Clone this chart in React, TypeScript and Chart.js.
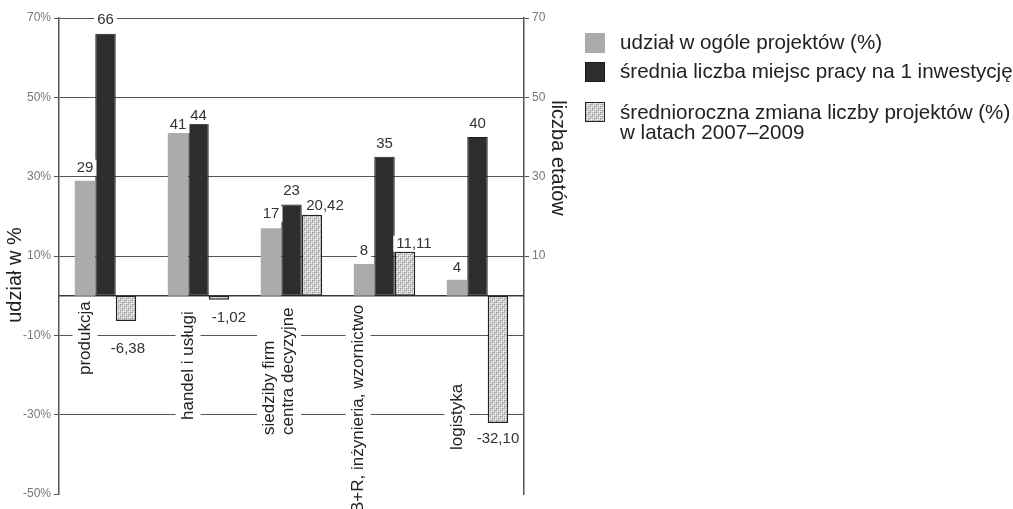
import React, { useEffect, useRef } from 'react';
import { Chart, registerables } from 'chart.js';

Chart.register(...registerables);

// ---------- data ----------
const categories: string[][] = [
  ['produkcja'],
  ['handel i usługi'],
  ['siedziby firm', 'centra decyzyjne'],
  ['B+R, inżynieria, wzornictwo'],
  ['logistyka'],
];
const shareValues = [29, 41, 17, 8, 4];
const jobsValues = [66, 44, 23, 35, 40];
const changeValues = [-6.38, -1.02, 20.42, 11.11, -32.1];
const leftTickValues = [-50, -30, -10, 10, 30, 50, 70];
const rightTickValues = [10, 30, 50, 70];
const legendLabels: string[][] = [
  ['udział w ogóle projektów (%)'],
  ['średnia liczba miejsc pracy na 1 inwestycję'],
  ['średnioroczna zmiana liczby projektów (%)', 'w latach 2007–2009'],
];
const leftTitle = 'udział w %';
const rightTitle = 'liczba etatów';

// ---------- layout / style (not data) ----------
const FONT = '"Liberation Sans", Arial, sans-serif';
const catLabelDx = [0, 10, 8, -6, 0];
const catLabelBottom = [375, 420, 435, 513, 450];
const shareLabelDy = [-13, -8, -14, -13, -12];
const jobsLabelDy = [-14, -5, -14, -13, -13];
const changeLabelDy = [28, 18, -9, -8, 16];
const changeLabelDx = [2, 10, 13, 9, 0];

const LIGHT = '#ababab';
const DARK = '#2d2d2d';
const GRID = '#555555';

function makePattern(): CanvasPattern | string {
  const c = document.createElement('canvas');
  c.width = 6;
  c.height = 6;
  const g = c.getContext('2d');
  if (!g) return '#cccccc';
  g.fillStyle = '#e4e4e4';
  g.fillRect(0, 0, 6, 6);
  g.fillStyle = '#a0a0a0';
  for (let y = 0; y < 6; y++) {
    for (let x = 0; x < 6; x++) {
      if ((x + y) % 2 === 0 && y % 2 === 0) g.fillRect(x, y, 1, 1);
    }
  }
  g.strokeStyle = '#b4b4b4';
  g.lineWidth = 1;
  g.beginPath();
  g.moveTo(0, 6);
  g.lineTo(6, 0);
  g.stroke();
  const p = g.createPattern(c, 'repeat');
  return p || '#cccccc';
}

const fmtChange = (v: number) => v.toFixed(2).replace('.', ',');

export default function App() {
  const ref = useRef<HTMLCanvasElement | null>(null);

  useEffect(() => {
    const canvas = ref.current;
    if (!canvas) return;
    const pattern = makePattern();

    const overlay = {
      id: 'overlay',
      beforeDatasetsDraw(chart: any) {
        const { ctx, chartArea, scales } = chart;
        const y0 = scales.y.getPixelForValue(0);
        ctx.save();
        ctx.strokeStyle = '#3a3a3a';
        ctx.lineWidth = 1.5;
        ctx.beginPath();
        ctx.moveTo(chartArea.left, y0);
        ctx.lineTo(chartArea.right, y0);
        ctx.stroke();
        ctx.restore();
      },
      afterDatasetsDraw(chart: any) {
        const { ctx } = chart;
        ctx.save();
        // category labels (rotated)
        const m0 = chart.getDatasetMeta(0);
        ctx.font = `17px ${FONT}`;
        ctx.textBaseline = 'middle';
        ctx.textAlign = 'left';
        const lh = 19;
        categories.forEach((lines, i) => {
          const bar = m0.data[i];
          const cx = bar.x + catLabelDx[i];
          const by = catLabelBottom[i];
          ctx.save();
          ctx.translate(cx, by);
          ctx.rotate(-Math.PI / 2);
          const n = lines.length;
          const w = Math.max(...lines.map((l) => ctx.measureText(l).width));
          ctx.fillStyle = '#ffffff';
          ctx.fillRect(-3, -((n * lh) / 2) - 3, w + 5, n * lh + 6);
          ctx.fillStyle = '#222222';
          lines.forEach((l, k) => {
            ctx.fillText(l, 0, (k - (n - 1) / 2) * lh);
          });
          ctx.restore();
        });

        // value labels
        ctx.font = `15px ${FONT}`;
        ctx.textAlign = 'center';
        ctx.textBaseline = 'middle';
        const drawLabel = (text: string, x: number, y: number) => {
          const w = ctx.measureText(text).width;
          ctx.fillStyle = '#ffffff';
          ctx.fillRect(x - w / 2 - 3, y - 8, w + 6, 16);
          ctx.fillStyle = '#333333';
          ctx.fillText(text, x, y);
        };
        const m1 = chart.getDatasetMeta(1);
        const m2 = chart.getDatasetMeta(2);
        shareValues.forEach((v, i) => {
          const b = m0.data[i];
          drawLabel(String(v), b.x, b.y + shareLabelDy[i]);
        });
        jobsValues.forEach((v, i) => {
          const b = m1.data[i];
          drawLabel(String(v), b.x, b.y + jobsLabelDy[i]);
        });
        changeValues.forEach((v, i) => {
          const b = m2.data[i];
          drawLabel(fmtChange(v), b.x + changeLabelDx[i], b.y + changeLabelDy[i]);
        });
        ctx.restore();
      },
      afterDraw(chart: any) {
        const { ctx } = chart;
        ctx.save();
        // axis titles
        ctx.font = `20px ${FONT}`;
        ctx.fillStyle = '#222222';
        ctx.textAlign = 'center';
        ctx.textBaseline = 'middle';
        ctx.save();
        ctx.translate(15, 275);
        ctx.rotate(-Math.PI / 2);
        ctx.fillText(leftTitle, 0, 0);
        ctx.restore();
        ctx.save();
        ctx.translate(558, 158);
        ctx.rotate(Math.PI / 2);
        ctx.fillText(rightTitle, 0, 0);
        ctx.restore();

        // legend
        const fills: (string | CanvasPattern)[] = [LIGHT, DARK, pattern];
        const borders = [LIGHT, '#1a1a1a', '#222222'];
        const boxY = [33, 62, 102];
        const textY = [[43], [72], [113, 133]];
        ctx.font = `20.6px ${FONT}`;
        ctx.textAlign = 'left';
        ctx.textBaseline = 'middle';
        legendLabels.forEach((lines, i) => {
          ctx.fillStyle = fills[i] as any;
          ctx.fillRect(585, boxY[i], 20, 20);
          ctx.strokeStyle = borders[i];
          ctx.lineWidth = 1;
          ctx.strokeRect(585.5, boxY[i] + 0.5, 19, 19);
          ctx.fillStyle = '#222222';
          lines.forEach((l, k) => ctx.fillText(l, 620, textY[i][k]));
        });
        ctx.restore();
      },
    };

    const chart = new Chart(canvas, {
      type: 'bar',
      data: {
        labels: categories,
        datasets: [
          {
            label: legendLabels[0][0],
            data: shareValues,
            yAxisID: 'y',
            backgroundColor: LIGHT,
            borderWidth: 0,
            categoryPercentage: 0.66,
            barPercentage: 1,
          },
          {
            label: legendLabels[1][0],
            data: jobsValues,
            yAxisID: 'y1',
            backgroundColor: DARK,
            borderColor: '#1a1a1a',
            borderWidth: 1,
            borderSkipped: false,
            categoryPercentage: 0.66,
            barPercentage: 1,
          },
          {
            label: legendLabels[2].join(' '),
            data: changeValues,
            yAxisID: 'y',
            backgroundColor: pattern as any,
            borderColor: '#222222',
            borderWidth: 1.5,
            borderSkipped: false,
            categoryPercentage: 0.66,
            barPercentage: 1,
          },
        ],
      },
      options: {
        responsive: false,
        animation: false,
        events: [],
        layout: { padding: { left: 0, right: 439, top: 18, bottom: 15 } },
        plugins: {
          legend: { display: false },
          tooltip: { enabled: false },
          title: { display: false },
        },
        scales: {
          x: { display: false },
          y: {
            position: 'left',
            min: -50,
            max: 70,
            afterBuildTicks: (scale: any) => {
              scale.ticks = leftTickValues.map((v) => ({ value: v }));
            },
            afterFit: (scale: any) => {
              scale.width = 59;
            },
            ticks: {
              callback: (v: any) => `${v}%`,
              font: { size: 12, family: FONT },
              color: '#777777',
              padding: 3,
            },
            grid: {
              color: (c: any) => (c.tick && c.tick.value === -50 ? 'rgba(0,0,0,0)' : GRID),
              lineWidth: 1,
              drawTicks: true,
              tickLength: 5,
              tickColor: GRID,
            },
            border: { display: true, color: GRID, width: 1.5 },
          },
          y1: {
            position: 'right',
            min: -50,
            max: 70,
            afterBuildTicks: (scale: any) => {
              scale.ticks = leftTickValues.map((v) => ({ value: v }));
            },
            afterFit: (scale: any) => {
              scale.width = 50;
            },
            ticks: {
              callback: (v: any) => (rightTickValues.includes(Number(v)) ? String(v) : ''),
              font: { size: 12, family: FONT },
              color: '#777777',
              padding: 3,
            },
            grid: {
              drawOnChartArea: false,
              drawTicks: true,
              tickLength: 5,
              tickColor: (c: any) =>
                c.tick && rightTickValues.includes(c.tick.value) ? GRID : 'rgba(0,0,0,0)',
            },
            border: { display: true, color: GRID, width: 1.5 },
          },
        },
      },
      plugins: [overlay],
    } as any);

    return () => chart.destroy();
  }, []);

  return (
    <div style={{ position: 'absolute', left: 0, top: 0, width: 1013, height: 509, background: '#ffffff' }}>
      <canvas ref={ref} width={1013} height={509} />
    </div>
  );
}
